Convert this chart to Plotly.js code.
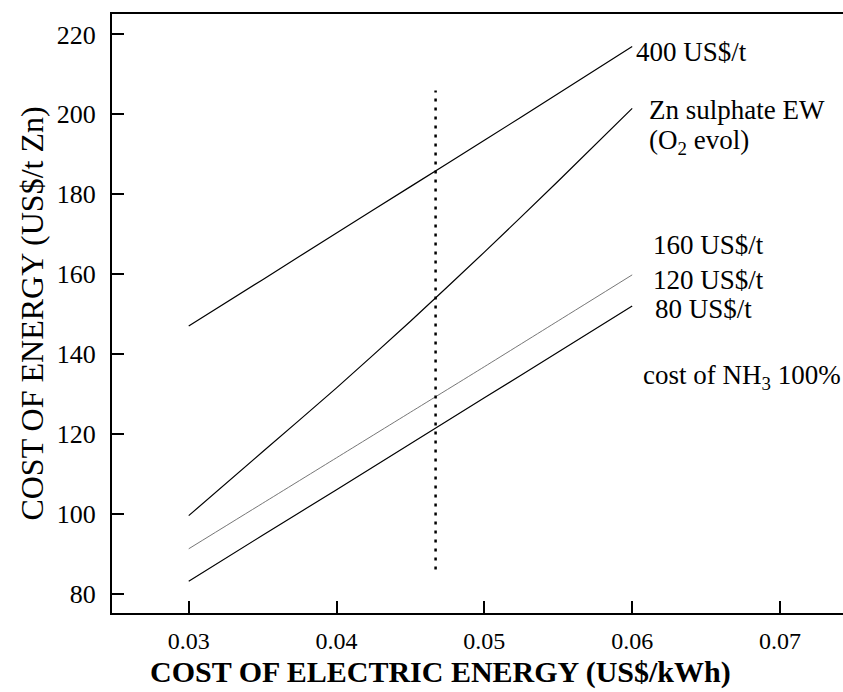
<!DOCTYPE html>
<html>
<head>
<meta charset="utf-8">
<script src="https://cdn.plot.ly/plotly-3.0.1.min.js"></script>
<style>
  html, body { margin: 0; padding: 0; background: #fff; }
  #chart { width: 843px; height: 692px; }
</style>
</head>
<body>
<div id="chart"></div>
<script>
// Electricity price (US$/kWh) at which each curve is evaluated
const electricityPrice = [0.030, 0.035, 0.040, 0.045, 0.050, 0.055, 0.060];

// Cost of energy (US$/t Zn) for each case
const nh3At400 = [147.0, 158.6, 170.3, 181.9, 193.5, 205.2, 217.0];
const znSulphateEW = [99.5, 115.5, 131.5, 148.2, 165.5, 183.3, 201.5];
const nh3At120 = [91.2, 102.6, 114.0, 125.4, 136.8, 148.3, 159.8];
const nh3At80 = [83.1, 94.6, 106.0, 117.5, 129.0, 140.5, 152.0];

// Vertical reference marker at the current electricity price
const markerPrice = [0.0467, 0.0467];
const markerSpan = [86, 206];

// Axis ticks
const xTicks = [0.03, 0.04, 0.05, 0.06, 0.07];
const xTickText = ['0.03', '0.04', '0.05', '0.06', '0.07'];
const yTicks = [80, 100, 120, 140, 160, 180, 200, 220];

// Curve labels: text and where they sit (data coordinates)
const labelText = ['400 US$/t', 'Zn sulphate EW', '(O<sub>2</sub> evol)', '160 US$/t', '120 US$/t', '80 US$/t', 'cost of NH<sub>3</sub> 100%'];
const labelX = [0.0601, 0.0610, 0.0610, 0.0613, 0.0613, 0.0614, 0.0606];
const labelY = [215.6, 201.1, 193.1, 167.3, 158.5, 151.3, 134.2];

const xTitle = 'COST OF ELECTRIC ENERGY (US$/kWh)';
const yTitle = 'COST OF ENERGY (US$/t Zn)';

const serif = 'Liberation Serif, Times New Roman, serif';

const solid = { color: '#000', width: 1.2, shape: 'spline', smoothing: 0.6 };

const traces = [
  { x: electricityPrice, y: nh3At400, name: '400 US$/t', mode: 'lines', line: solid },
  { x: electricityPrice, y: znSulphateEW, name: 'Zn sulphate EW', mode: 'lines', line: solid },
  { x: electricityPrice, y: nh3At120, name: '120 US$/t', mode: 'lines',
    line: { color: '#666', width: 0.9, shape: 'spline', smoothing: 0.6 } },
  { x: electricityPrice, y: nh3At80, name: '80 US$/t', mode: 'lines', line: solid },
  { x: markerPrice, y: markerSpan, name: 'reference', mode: 'lines',
    line: { color: '#000', width: 2.5, dash: '3px,6px' } }
];

const annotations = labelText.map((t, i) => ({
  x: labelX[i], y: labelY[i], xref: 'x', yref: 'y',
  text: t, showarrow: false, xanchor: 'left', yanchor: 'middle',
  font: { family: serif, size: 27, color: '#000' }
}));

// Horizontal axis title, set slightly left of the plot centre, near the bottom edge
annotations.push({
  x: 0.45, y: -0.1285, xref: 'paper', yref: 'paper',
  text: '<b>' + xTitle + '</b>', showarrow: false,
  xanchor: 'center', yanchor: 'bottom', borderpad: 0,
  font: { family: serif, size: 30, color: '#000' }
});

const layout = {
  width: 843, height: 692,
  margin: { l: 112, r: 0, t: 14, b: 79 },
  paper_bgcolor: '#fff', plot_bgcolor: '#fff',
  showlegend: false,
  xaxis: {
    range: [0.02481, 0.07426],
    tickvals: xTicks, ticktext: xTickText,
    ticks: 'inside', ticklen: 12, tickwidth: 2, tickcolor: '#000',
    showgrid: false, zeroline: false,
    showline: true, linecolor: '#000', linewidth: 2, mirror: true,
    ticklabelstandoff: 5,
    tickfont: { family: serif, size: 24, color: '#000' }
  },
  yaxis: {
    range: [75.12, 225.13],
    tickvals: yTicks,
    ticks: 'inside', ticklen: 12, tickwidth: 2, tickcolor: '#000',
    showgrid: false, zeroline: false,
    showline: true, linecolor: '#000', linewidth: 2,
    ticklabelstandoff: 9,
    tickfont: { family: serif, size: 26, color: '#000' },
    title: {
      text: yTitle,
      font: { family: serif, size: 32, color: '#000' },
      standoff: 4
    }
  },
  annotations: annotations
};

Plotly.newPlot('chart', traces, layout, { displayModeBar: false, staticPlot: true });
</script>
</body>
</html>
